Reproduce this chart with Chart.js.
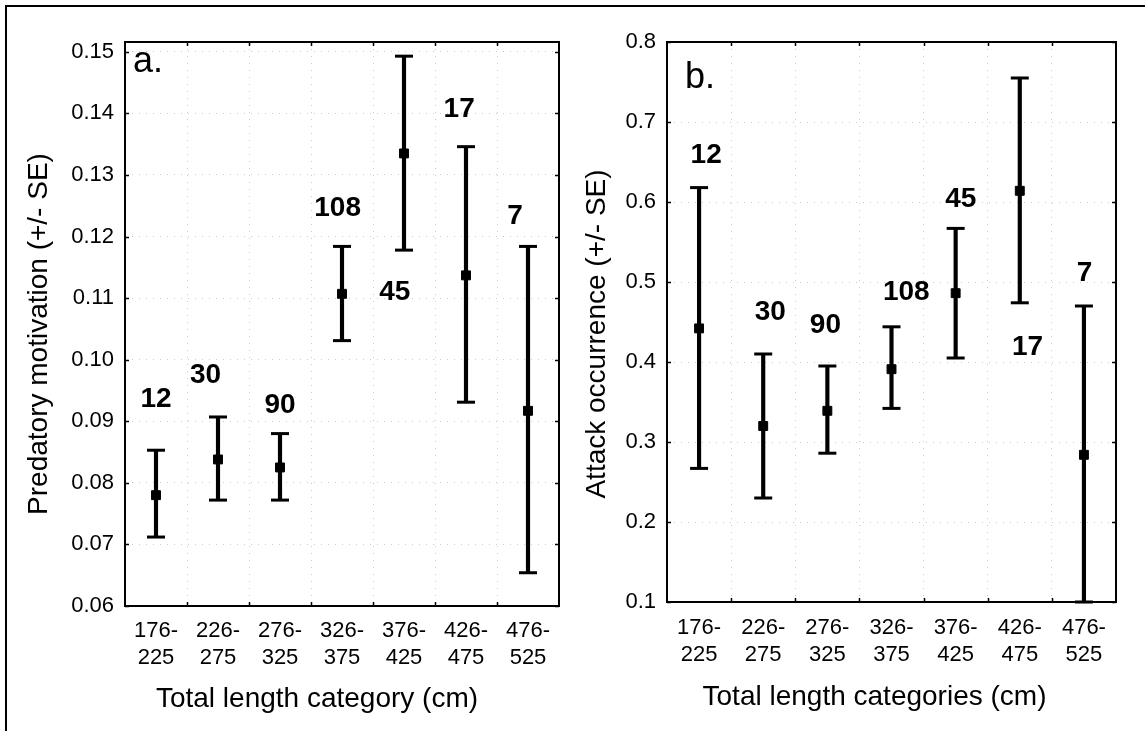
<!DOCTYPE html>
<html>
<head>
<meta charset="utf-8">
<script src="https://cdn.jsdelivr.net/npm/chart.js@4.4.1/dist/chart.umd.min.js"></script>
<style>
  html, body { margin: 0; padding: 0; background: #fff; }
  body { width: 1145px; height: 731px; position: relative; overflow: hidden; }
  #frame { position: absolute; left: 5px; top: 5px; width: 1160px; height: 760px;
           border-left: 2px solid #000; border-top: 2px solid #000; }
  .panel { position: absolute; top: 0; height: 731px; }
  #panelA { left: 0; width: 590px; }
  #panelB { left: 570px; width: 575px; }
</style>
</head>
<body>
<div id="frame"></div>
<div class="panel" id="panelA"><canvas id="chartA"></canvas></div>
<div class="panel" id="panelB"><canvas id="chartB"></canvas></div>
<script>
// Length classes (cm), shared by both panels
const categories = [
  ['176-', '225'], ['226-', '275'], ['276-', '325'], ['326-', '375'],
  ['376-', '425'], ['426-', '475'], ['476-', '525']
];
// Number of animals in each length class
const sampleSizes = [12, 30, 90, 108, 45, 17, 7];

// a. Predatory motivation: mean and mean +/- SE
const motivationMean  = [0.0780, 0.0838, 0.0825, 0.1107, 0.1335, 0.1137, 0.0917];
const motivationUpper = [0.0853, 0.0907, 0.0880, 0.1184, 0.1493, 0.1346, 0.1184];
const motivationLower = [0.0712, 0.0772, 0.0772, 0.1031, 0.1178, 0.0931, 0.0654];
const motivationTicks = [0.06, 0.07, 0.08, 0.09, 0.10, 0.11, 0.12, 0.13, 0.14, 0.15];

// b. Attack occurrence: mean and mean +/- SE
const attackMean  = [0.442, 0.320, 0.339, 0.391, 0.486, 0.614, 0.284];
const attackUpper = [0.618, 0.410, 0.395, 0.444, 0.567, 0.755, 0.470];
const attackLower = [0.267, 0.230, 0.286, 0.342, 0.405, 0.474, 0.100];
const attackTicks = [0.1, 0.2, 0.3, 0.4, 0.5, 0.6, 0.7, 0.8];

// Where each sample-size label sits, in axis units [category index, value]
const motivationNPlacement = [[0.00, 0.0936], [0.80, 0.0975], [2.00, 0.0926], [2.93, 0.1246],
                              [3.85, 0.1110], [4.89, 0.1406], [5.79, 0.1233]];
const attackNPlacement = [[0.11, 0.659], [1.11, 0.4625], [1.97, 0.446], [3.23, 0.487],
                          [4.08, 0.604], [5.12, 0.419], [6.01, 0.511]];

const FONT = '"Liberation Sans", Arial, Helvetica, sans-serif';
const NARROW = '"Liberation Sans Narrow", "Arial Narrow", "Liberation Sans", Arial, sans-serif';

// Frame with inward ticks, sample-size labels, panel letter and axis titles
const panelDecor = {
  id: 'panelDecor',
  afterDatasetsDraw(chart, args, opts) {
    const { ctx, chartArea: a, scales: { x, y } } = chart;
    ctx.save();
    ctx.strokeStyle = '#000';
    ctx.lineWidth = 2;
    ctx.strokeRect(a.left, a.top, a.right - a.left, a.bottom - a.top);

    ctx.beginPath();
    ctx.lineWidth = 1.5;
    y.ticks.forEach(t => {
      const py = Math.round(y.getPixelForValue(t.value)) + 0.5;
      ctx.moveTo(a.left, py); ctx.lineTo(a.left + 4, py);
      ctx.moveTo(a.right, py); ctx.lineTo(a.right - 4, py);
    });
    for (let i = 1; i < categories.length; i++) {
      const px = Math.round(x.getPixelForValue(i - 0.5)) + 0.5;
      ctx.moveTo(px, a.top); ctx.lineTo(px, a.top + 4);
      ctx.moveTo(px, a.bottom); ctx.lineTo(px, a.bottom - 4);
    }
    ctx.stroke();

    ctx.fillStyle = '#000';
    ctx.textAlign = 'center';
    ctx.textBaseline = 'middle';
    ctx.font = 'bold 28px ' + NARROW;
    sampleSizes.forEach((n, i) => {
      const [cx, cy] = opts.nPlacement[i];
      ctx.fillText(String(n), x.getPixelForValue(cx), y.getPixelForValue(cy));
    });

    ctx.textAlign = 'left';
    ctx.textBaseline = 'alphabetic';
    ctx.font = '36px ' + FONT;
    ctx.fillText(opts.letter, a.left + opts.letterDx, opts.letterBaseline);

    ctx.font = '28px ' + FONT;
    ctx.textAlign = 'center';
    ctx.textBaseline = 'middle';
    ctx.fillText(opts.xTitle, (a.left + a.right) / 2 + opts.xTitleDx, opts.xTitleY);
    ctx.translate(opts.yTitleX, (a.top + a.bottom) / 2 + opts.yTitleDy);
    ctx.rotate(-Math.PI / 2);
    ctx.fillText(opts.yTitle, 0, 0);
    ctx.restore();
  }
};

function buildPanel(canvasId, cfg) {
  const black = '#000';
  return new Chart(document.getElementById(canvasId), {
    type: 'bar',
    data: {
      labels: categories,
      datasets: [
        { // SE range as a thin floating bar
          type: 'bar',
          data: cfg.lower.map((lo, i) => [lo, cfg.upper[i]]),
          backgroundColor: black,
          borderWidth: 0,
          barThickness: 3.5,
          order: 4
        },
        { // upper whisker caps
          type: 'line',
          data: cfg.upper,
          showLine: false,
          pointStyle: 'line',
          pointRadius: 9,
          pointBorderWidth: 3,
          pointBorderColor: black,
          clip: false,
          order: 3
        },
        { // lower whisker caps
          type: 'line',
          data: cfg.lower,
          showLine: false,
          pointStyle: 'line',
          pointRadius: 9,
          pointBorderWidth: 3,
          pointBorderColor: black,
          clip: false,
          order: 2
        },
        { // means
          type: 'line',
          data: cfg.mean,
          showLine: false,
          pointStyle: 'rect',
          pointRadius: 6.3,
          pointBackgroundColor: black,
          pointBorderColor: black,
          pointBorderWidth: 1,
          clip: false,
          order: 1
        }
      ]
    },
    options: {
      responsive: true,
      maintainAspectRatio: false,
      animation: false,
      events: [],
      layout: { padding: { left: 0, top: 42, right: cfg.padRight, bottom: 0 } },
      plugins: {
        legend: { display: false },
        tooltip: { enabled: false },
        panelDecor: cfg.decor
      },
      scales: {
        x: {
          type: 'category',
          offset: true,
          grid: { offset: true, color: 'rgba(0,0,0,0.2)', lineWidth: 1, drawTicks: false },
          border: { display: false, dash: [1, 6] },
          ticks: {
            color: black,
            padding: cfg.xTickPad,
            maxRotation: 0,
            autoSkip: false,
            font: { family: NARROW, size: 22, lineHeight: 1.25 }
          },
          afterFit: s => { s.height = cfg.xHeight; }
        },
        y: {
          type: 'linear',
          min: cfg.min,
          max: cfg.max,
          grid: { color: 'rgba(0,0,0,0.2)', lineWidth: 1, drawTicks: false },
          border: { display: false, dash: [1, 6] },
          afterBuildTicks: s => { s.ticks = cfg.ticks.map(v => ({ value: v })); },
          ticks: {
            color: black,
            padding: 11,
            font: { family: FONT, size: 22 },
            callback: v => Number(v).toFixed(cfg.decimals)
          },
          afterFit: s => { s.width = cfg.yWidth; }
        }
      }
    },
    plugins: [panelDecor]
  });
}

buildPanel('chartA', {
  mean: motivationMean, upper: motivationUpper, lower: motivationLower,
  ticks: motivationTicks, min: 0.06, max: 0.1516, decimals: 2,
  padRight: 31, yWidth: 125, xHeight: 125, xTickPad: 11,
  decor: {
    nPlacement: motivationNPlacement, letter: 'a.', letterDx: 8, letterBaseline: 72,
    xTitle: 'Total length category (cm)', xTitleDx: -25, xTitleY: 699,
    yTitle: 'Predatory motivation (+/- SE)', yTitleX: 39, yTitleDy: 10
  }
});

buildPanel('chartB', {
  mean: attackMean, upper: attackUpper, lower: attackLower,
  ticks: attackTicks, min: 0.1, max: 0.8, decimals: 1,
  padRight: 29, yWidth: 97, xHeight: 129, xTickPad: 12,
  decor: {
    nPlacement: attackNPlacement, letter: 'b.', letterDx: 18, letterBaseline: 88,
    xTitle: 'Total length categories (cm)', xTitleDx: -17, xTitleY: 697,
    yTitle: 'Attack occurrence (+/- SE)', yTitleX: 27, yTitleDy: 12
  }
});
</script>
</body>
</html>
